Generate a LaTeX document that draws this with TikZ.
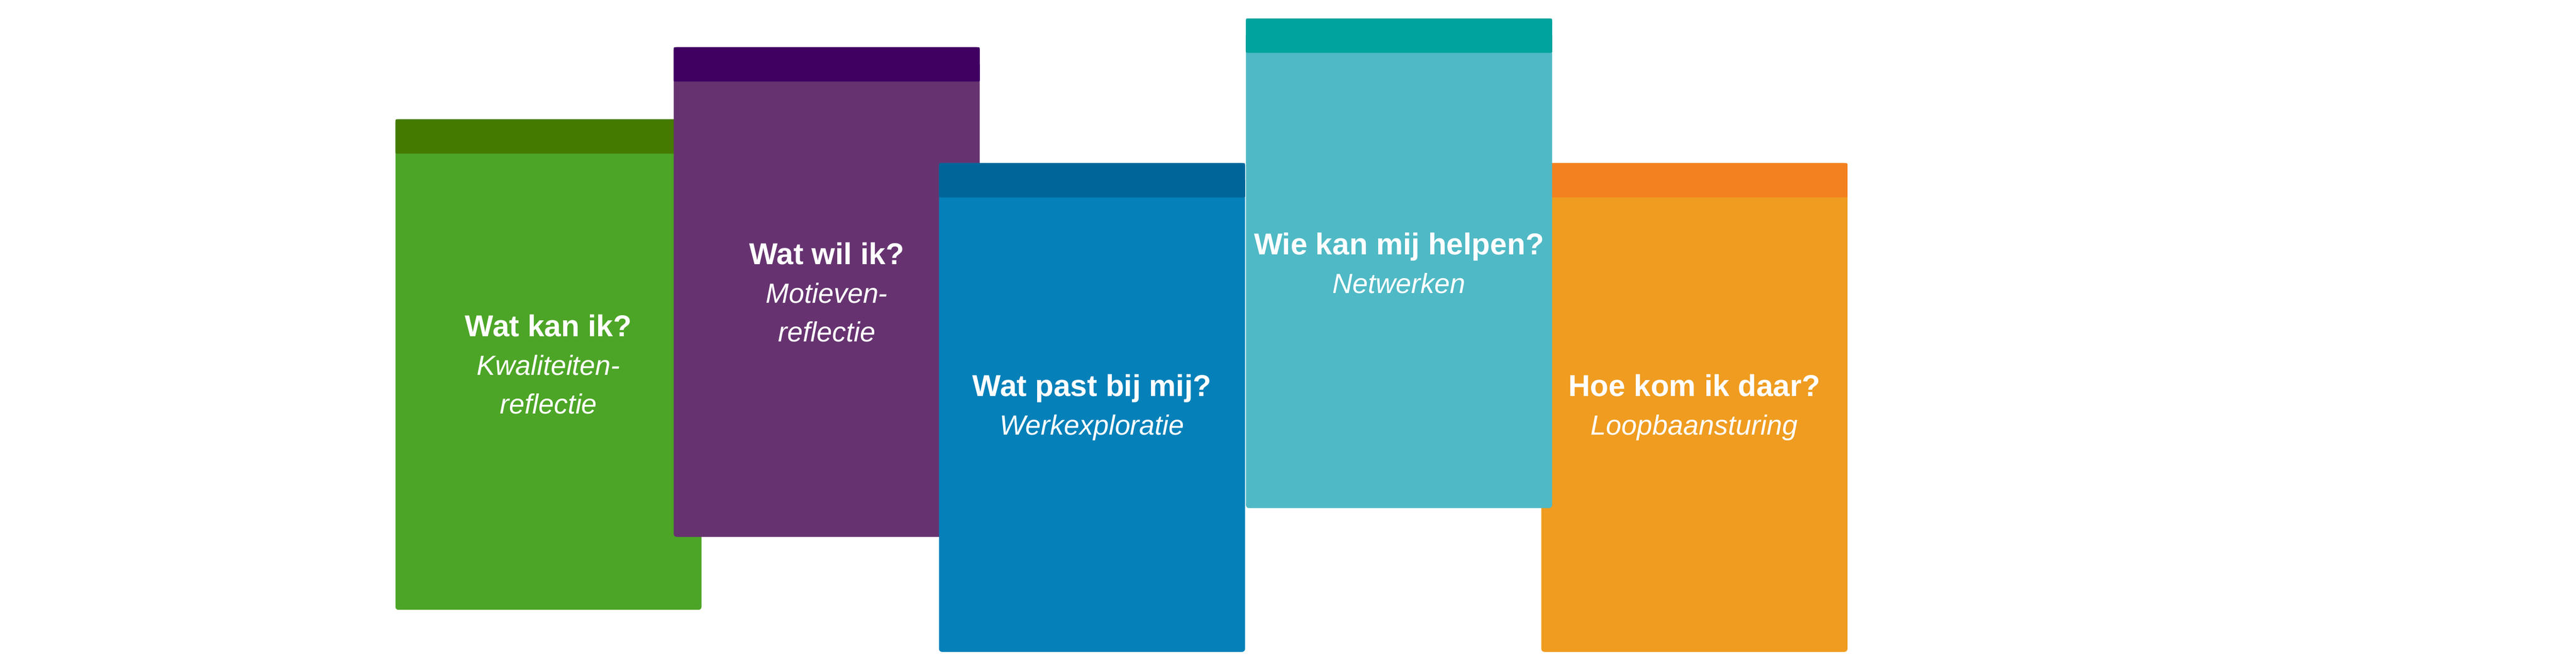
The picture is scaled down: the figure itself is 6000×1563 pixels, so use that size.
\documentclass[tikz,border=0pt]{standalone}
\usepackage{fontspec}
\setmainfont{Liberation Sans}
\definecolor{greenH}{HTML}{457A00}
\definecolor{greenB}{HTML}{4CA526}
\definecolor{purpleH}{HTML}{400062}
\definecolor{purpleB}{HTML}{663370}
\definecolor{blueH}{HTML}{006699}
\definecolor{blueB}{HTML}{0580B9}
\definecolor{tealH}{HTML}{00A39D}
\definecolor{tealB}{HTML}{4FB9C5}
\definecolor{orangeH}{HTML}{F48120}
\definecolor{orangeB}{HTML}{EF9C20}
\newcommand\subline[1]{{\itshape\fontsize{18.4}{25.6}\selectfont #1}}
\newcommand\titleline[1]{{\bfseries #1}}
% x, top, bottom, head colour, body colour, name, text
\newcommand\cardbox[7]{%
  \fill[#5, rounded corners=2pt] (#1,#2) rectangle ({#1+713},#3);
  \fill[#4, rounded corners=0.8pt] (#1,#2) rectangle ({#1+713},{#2+80});
  \fill[#4] (#1,{#2+40}) rectangle ({#1+713},{#2+78});
  \node[cardtext] (#6) at ({#1+356.5},{(#2+#3)/2}) {#7};
}
\begin{document}
\begin{tikzpicture}[x=0.01cm,y=-0.01cm,
  cardtext/.style={text=white, align=center, inner sep=0pt,
    font=\fontsize{20}{25.6}\selectfont}]
\useasboundingbox (0,0) rectangle (6000,1563);
\cardbox{921}{278}{1421}{greenH}{greenB}{kan}{\titleline{Wat kan ik?}\\\subline{Kwaliteiten-}\\\subline{reflectie}}
\cardbox{1569}{110}{1251}{purpleH}{purpleB}{wil}{\titleline{Wat wil ik?}\\\subline{Motieven-}\\\subline{reflectie}}
\cardbox{2187}{380}{1519}{blueH}{blueB}{past}{\titleline{Wat past bij mij?}\\\subline{Werkexploratie}}
\cardbox{3590}{380}{1519}{orangeH}{orangeB}{hoe}{\titleline{Hoe kom ik daar?}\\\subline{Loopbaansturing}}
\cardbox{2902}{43}{1184}{tealH}{tealB}{wie}{\titleline{Wie kan mij helpen?}\\\subline{Netwerken}}
\end{tikzpicture}
\end{document}
